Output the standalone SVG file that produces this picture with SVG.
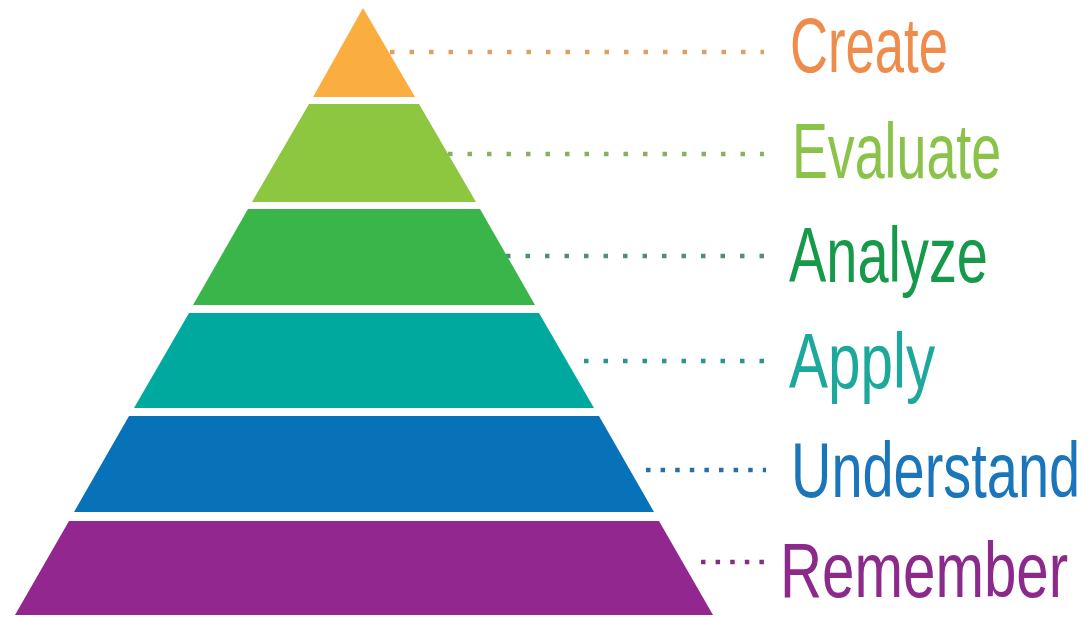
<svg xmlns="http://www.w3.org/2000/svg" width="1091" height="617" viewBox="0 0 1091 617">
<style>
.lbl{font-family:"Liberation Sans","Open Sans",Arial,sans-serif;font-size:78px;font-weight:normal;}
.dot{stroke-width:4.5;fill:none;}
.d19{stroke-dasharray:4.5 15;}
.d15{stroke-dasharray:4.5 10.1;}
</style>
<rect width="1091" height="617" fill="#ffffff"/>
<g id="connectors">
<line class="dot d19" x1="390" y1="52" x2="764" y2="52" stroke="#DDA060"/>
<line class="dot d19" x1="448" y1="154" x2="764" y2="154" stroke="#88B062"/>
<line class="dot d19" x1="506" y1="256" x2="764" y2="256" stroke="#568E6A"/>
<line class="dot d19" x1="584" y1="361" x2="764" y2="361" stroke="#26978A"/>
<line class="dot d15" x1="646" y1="470" x2="766" y2="470" stroke="#2B6EA3"/>
<line class="dot d15" x1="701" y1="562" x2="765" y2="562" stroke="#82317C"/>
</g>
<g id="create">
<polygon points="363,8 415,97 313,97" fill="#FBAE40"/>
<text class="lbl" transform="translate(790,72) scale(0.675,1)" fill="#EF8C4B">Create</text>
</g>
<g id="evaluate">
<polygon points="309,104 419,104 476,202 252,202" fill="#8DC63F"/>
<text class="lbl" transform="translate(792,178) scale(0.689,1)" fill="#8BC34A">Evaluate</text>
</g>
<g id="analyze">
<polygon points="248,209 480,209 535,305 193,305" fill="#39B54A"/>
<text class="lbl" transform="translate(789,282) scale(0.717,1)" fill="#16994A">Analyze</text>
</g>
<g id="apply">
<polygon points="189,313 539,313 594,408 134,408" fill="#00A99D"/>
<text class="lbl" transform="translate(789,388) scale(0.749,1)" fill="#1CA89A">Apply</text>
</g>
<g id="understand">
<polygon points="129,416 599,416 654,512 74,512" fill="#0872B9"/>
<text class="lbl" transform="translate(791,497) scale(0.717,1)" fill="#1B75BB">Understand</text>
</g>
<g id="remember">
<polygon points="69,521 659,521 713,615 15,615" fill="#92278F"/>
<text class="lbl" transform="translate(780,597) scale(0.747,1)" fill="#8C2A8C">Remember</text>
</g>
</svg>
